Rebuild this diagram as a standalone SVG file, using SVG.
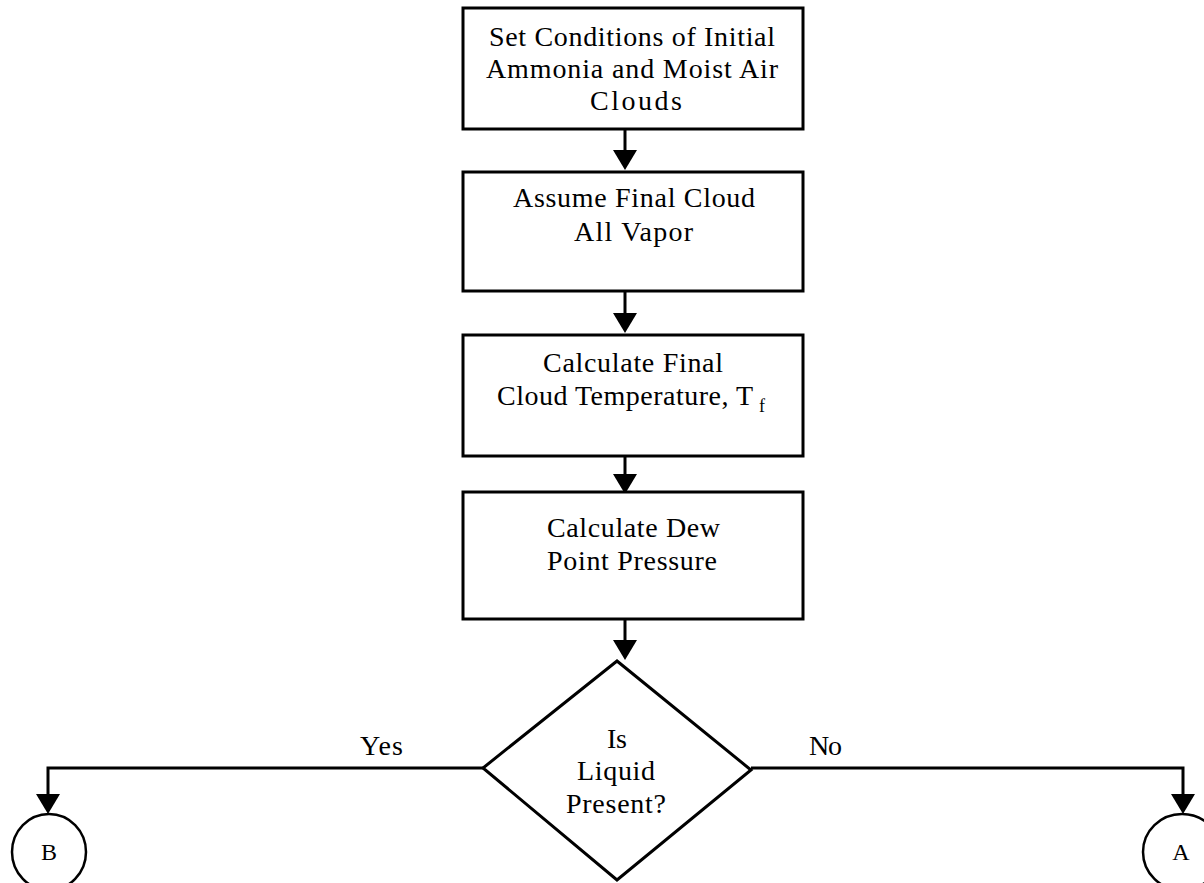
<svg xmlns="http://www.w3.org/2000/svg" width="1204" height="883" viewBox="0 0 1204 883">
<style>
.box{fill:#fff;stroke:#000;stroke-width:3}
.conn{fill:none;stroke:#000;stroke-width:3}
.circ{fill:#fff;stroke:#000;stroke-width:2.5}
</style>
<defs>
<marker id="ah" viewBox="0 0 20 24" refX="0" refY="12" markerWidth="20" markerHeight="24" markerUnits="userSpaceOnUse" orient="auto">
<path d="M0,0 L20,12 L0,24 z" fill="#000"/>
</marker>
</defs>
<rect width="1204" height="883" fill="#fff"/>
<g font-family="'Liberation Serif', 'Times New Roman', serif" font-size="28" fill="#000">
<g id="connectors">
<line class="conn" x1="625" y1="129" x2="625" y2="150" marker-end="url(#ah)"/>
<line class="conn" x1="625" y1="291" x2="625" y2="313" marker-end="url(#ah)"/>
<line class="conn" x1="625" y1="456" x2="625" y2="474" marker-end="url(#ah)"/>
<line class="conn" x1="625" y1="619" x2="625" y2="640" marker-end="url(#ah)"/>
<path class="conn" d="M483,768 H48 V794" marker-end="url(#ah)"/>
<path class="conn" d="M751,768 H1183 V794" marker-end="url(#ah)"/>
<text x="360" y="755" textLength="43" lengthAdjust="spacing">Yes</text>
<text x="809" y="755" textLength="33" lengthAdjust="spacing">No</text>
</g>
<g id="n1">
<rect class="box" x="463" y="8" width="340" height="121"/>
<text x="489" y="46" textLength="286" lengthAdjust="spacing">Set Conditions of Initial</text>
<text x="486" y="78" textLength="292" lengthAdjust="spacing">Ammonia and Moist Air</text>
<text x="590" y="110" textLength="92" lengthAdjust="spacing">Clouds</text>
</g>
<g id="n2">
<rect class="box" x="463" y="172" width="340" height="119"/>
<text x="513" y="207" textLength="242" lengthAdjust="spacing">Assume Final Cloud</text>
<text x="574" y="241" textLength="119" lengthAdjust="spacing">All Vapor</text>
</g>
<g id="n3">
<rect class="box" x="463" y="335" width="340" height="121"/>
<text x="543" y="372" textLength="180" lengthAdjust="spacing">Calculate Final</text>
<text x="497" y="405" textLength="256" lengthAdjust="spacing">Cloud Temperature, T</text>
<text x="759" y="412" font-size="18">f</text>
</g>
<g id="n4">
<rect class="box" x="463" y="492" width="340" height="127"/>
<text x="547" y="537" textLength="173" lengthAdjust="spacing">Calculate Dew</text>
<text x="547" y="570" textLength="170" lengthAdjust="spacing">Point Pressure</text>
</g>
<g id="n5">
<polygon class="box" points="617,661 751,770 617,880 483,768"/>
<text x="607" y="748" textLength="20" lengthAdjust="spacing">Is</text>
<text x="577" y="780" textLength="78" lengthAdjust="spacing">Liquid</text>
<text x="566" y="813" textLength="100" lengthAdjust="spacing">Present?</text>
</g>
<g id="nB">
<ellipse class="circ" cx="49" cy="852" rx="37" ry="38"/>
<text x="49" y="860" text-anchor="middle" font-size="24">B</text>
</g>
<g id="nA">
<ellipse class="circ" cx="1182" cy="852" rx="39" ry="38"/>
<text x="1181" y="860" text-anchor="middle" font-size="24">A</text>
</g>
</g>
</svg>
